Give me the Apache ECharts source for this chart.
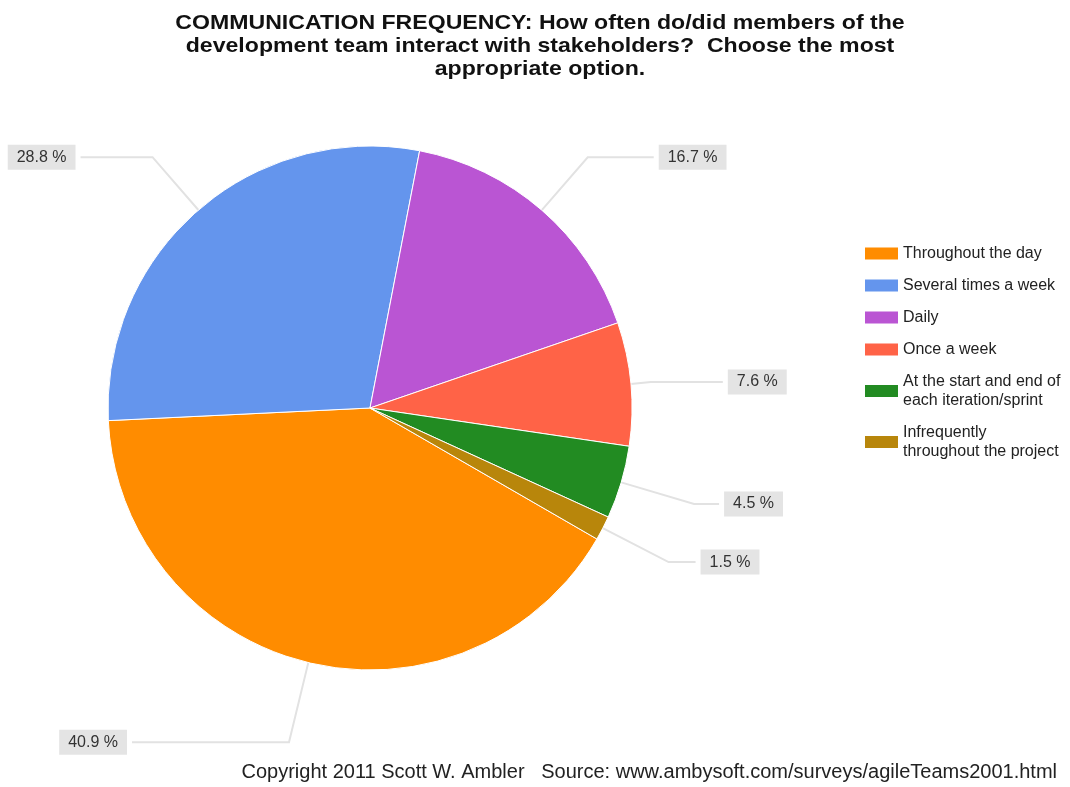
<!DOCTYPE html>
<html>
<head>
<meta charset="utf-8">
<script src="https://cdn.jsdelivr.net/npm/echarts@6/dist/echarts.min.js"></script>
<style>
html,body{margin:0;padding:0;background:#fff;}
#chart{width:1070px;height:787px;}
</style>
</head>
<body>
<div id="chart"></div>
<script>
const titleText = 'COMMUNICATION FREQUENCY: How often do/did members of the\ndevelopment team interact with stakeholders?  Choose the most\nappropriate option.';
const footerText = 'Copyright 2011 Scott W. Ambler   Source: www.ambysoft.com/surveys/agileTeams2001.html';
const categories = ['Throughout the day', 'Several times a week', 'Daily', 'Once a week', 'At the start and end of\neach iteration/sprint', 'Infrequently\nthroughout the project'];
const values = [40.9, 28.8, 16.7, 7.6, 4.5, 1.5];
const colors = ['#FF8C00', '#6495ED', '#BA55D3', '#FF6347', '#228B22', '#B8860B'];
// leader line lengths per slice (layout only): [radial segment, horizontal segment]
const leaderLengths = [[82, 157], [70, 72], [70, 66], [20, 72], [76, 25], [74, 27]];

const chart = echarts.init(document.getElementById('chart'));
chart.setOption({
  animation: false,
  color: colors,
  title: [{
    text: footerText,
    right: 8, bottom: 0,
    textStyle: {fontFamily: 'Liberation Sans, Arial', fontWeight: 'normal', fontSize: 20, color: '#222'}
  }],
  graphic: [{
    type: 'text',
    x: 540, y: 12,
    scaleX: 1.1,
    style: {
      text: titleText,
      textAlign: 'center',
      textVerticalAlign: 'top',
      font: 'bold 21px "Liberation Sans", Arial',
      lineHeight: 23,
      fill: '#111'
    }
  }],
  legend: {
    orient: 'vertical',
    left: 860, top: 239,
    itemWidth: 33, itemHeight: 12, itemGap: 13,
    icon: 'rect',
    itemStyle: {borderWidth: 0},
    textStyle: {fontFamily: 'Liberation Sans, Arial', fontSize: 16, color: '#222', lineHeight: 19},
    data: categories
  },
  series: [{
    type: 'pie',
    center: [370, 408],
    radius: 262,
    startAngle: -30,
    clockwise: true,
    avoidLabelOverlap: false,
    itemStyle: {borderColor: '#fff', borderWidth: 1},
    label: {
      show: true,
      formatter: p => p.value.toFixed(1) + ' %',
      fontFamily: 'Liberation Sans, Arial', fontSize: 16, color: '#333', lineHeight: 16,
      backgroundColor: '#e4e4e4', padding: [5, 9, 4, 9]
    },
    labelLine: {show: true, lineStyle: {color: '#e2e2e2', width: 2}},
    data: categories.map((c, i) => ({
      name: c,
      value: values[i],
      labelLine: {length: leaderLengths[i][0], length2: leaderLengths[i][1]}
    }))
  }]
});
</script>
</body>
</html>
